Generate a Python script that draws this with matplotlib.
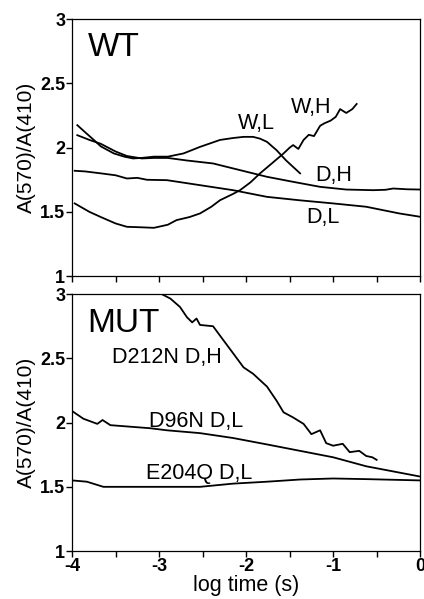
import matplotlib
matplotlib.use('Agg')
import matplotlib.pyplot as plt

plt.rcParams['font.family'] = ['Liberation Sans', 'DejaVu Sans']

# ---- WT panel ----
wh_x = [-3.97, -3.8, -3.67, -3.5, -3.37, -3.2, -3.06, -2.9, -2.80, -2.65, -2.53, -2.4, -2.30,
        -2.15, -2.07, -1.95, -1.84, -1.7, -1.57, -1.50, -1.46, -1.40, -1.34, -1.28, -1.22, -1.15,
        -1.10, -1.03, -0.97, -0.92, -0.85, -0.78, -0.73]
wh_y = [1.566, 1.50, 1.46, 1.41, 1.384, 1.38, 1.376, 1.40, 1.436, 1.46, 1.488, 1.54, 1.591,
        1.64, 1.669, 1.73, 1.80, 1.88, 1.955, 2.00, 2.02, 1.99, 2.06, 2.10, 2.09, 2.17,
        2.19, 2.21, 2.24, 2.30, 2.27, 2.30, 2.34]

wl_x = [-3.94, -3.85, -3.75, -3.67, -3.52, -3.4, -3.3, -3.2, -3.06, -2.9, -2.72, -2.53, -2.30,
        -2.15, -2.03, -1.92, -1.84, -1.76, -1.65, -1.54, -1.46, -1.38]
wl_y = [2.175, 2.12, 2.06, 2.01, 1.955, 1.93, 1.916, 1.92, 1.93, 1.93, 1.955, 2.006, 2.06,
        2.075, 2.084, 2.084, 2.07, 2.045, 1.98, 1.90, 1.85, 1.80]

dh_x = [-3.94, -3.8, -3.67, -3.5, -3.37, -3.2, -3.06, -2.9, -2.68, -2.38, -2.07, -1.76, -1.46,
        -1.15, -0.85, -0.54, -0.40, -0.31, -0.15, 0.0]
dh_y = [2.097, 2.06, 2.03, 1.97, 1.935, 1.916, 1.92, 1.92, 1.90, 1.877, 1.825, 1.773, 1.734,
        1.695, 1.674, 1.669, 1.672, 1.682, 1.676, 1.674]

dl_x = [-3.97, -3.85, -3.67, -3.5, -3.37, -3.25, -3.14, -2.91, -2.53, -2.15, -1.76, -1.38,
        -1.0, -0.62, -0.24, 0.0]
dl_y = [1.82, 1.815, 1.80, 1.785, 1.76, 1.765, 1.75, 1.747, 1.708, 1.669, 1.617, 1.59,
        1.566, 1.54, 1.488, 1.462]

# ---- MUT panel ----
d212_x = [-3.00, -2.97, -2.87, -2.76, -2.68, -2.62, -2.57, -2.53, -2.38, -2.26, -2.15, -2.03,
          -1.92, -1.76, -1.65, -1.57, -1.46, -1.34, -1.25, -1.15, -1.08, -1.0, -0.89, -0.81,
          -0.70, -0.62, -0.55, -0.50]
d212_y = [3.06, 3.0, 2.965, 2.90, 2.82, 2.78, 2.81, 2.76, 2.75, 2.64, 2.54, 2.43,
          2.38, 2.28, 2.17, 2.08, 2.04, 1.99, 1.91, 1.94, 1.84, 1.82, 1.835, 1.77,
          1.78, 1.74, 1.73, 1.71]

d96_x = [-4.0, -3.87, -3.71, -3.65, -3.56, -3.37, -3.10, -2.91, -2.53, -2.15, -1.76, -1.38,
         -1.0, -0.62, -0.31, 0.0]
d96_y = [2.09, 2.03, 1.99, 2.02, 1.98, 1.97, 1.956, 1.94, 1.918, 1.88, 1.83, 1.78,
         1.73, 1.66, 1.62, 1.58]

e204_x = [-4.0, -3.83, -3.64, -3.3, -2.91, -2.53, -2.15, -1.76, -1.38, -1.0, -0.62, 0.0]
e204_y = [1.55, 1.54, 1.50, 1.50, 1.50, 1.50, 1.525, 1.54, 1.557, 1.565, 1.56, 1.55]

x_ticks = [-4, -3.5, -3, -2.5, -2, -1.5, -1, -0.5, 0]
x_labels = ['-4', '', '-3', '', '-2', '', '-1', '', '0']
y_ticks = [1, 1.5, 2, 2.5, 3]
y_labels = ['1', '1.5', '2', '2.5', '3']

fig = plt.figure(figsize=(4.24, 5.99), dpi=100)
ax1 = fig.add_axes([0.170, 0.539, 0.821, 0.429])
ax2 = fig.add_axes([0.170, 0.080, 0.821, 0.429])

lw = 1.3
ax1.plot(wh_x, wh_y, 'k', lw=lw)
ax1.plot(wl_x, wl_y, 'k', lw=lw)
ax1.plot(dh_x, dh_y, 'k', lw=lw)
ax1.plot(dl_x, dl_y, 'k', lw=lw)
ax2.plot(d212_x, d212_y, 'k', lw=lw)
ax2.plot(d96_x, d96_y, 'k', lw=lw)
ax2.plot(e204_x, e204_y, 'k', lw=lw)

fs = 15.5
ax1.text(-3.82, 2.78, 'WT', fontsize=24, ha='left', va='center')
ax1.text(-1.88, 2.185, 'W,L', fontsize=fs, ha='center', va='center')
ax1.text(-1.25, 2.31, 'W,H', fontsize=fs, ha='center', va='center')
ax1.text(-0.99, 1.786, 'D,H', fontsize=fs, ha='center', va='center')
ax1.text(-1.115, 1.457, 'D,L', fontsize=fs, ha='center', va='center')

ax2.text(-3.83, 2.774, 'MUT', fontsize=24, ha='left', va='center')
ax2.text(-2.91, 2.51, 'D212N D,H', fontsize=fs, ha='center', va='center')
ax2.text(-2.57, 2.006, 'D96N D,L', fontsize=fs, ha='center', va='center')
ax2.text(-2.54, 1.60, 'E204Q D,L', fontsize=fs, ha='center', va='center')

for ax in (ax1, ax2):
    ax.set_xlim(-4, 0)
    ax.set_ylim(1, 3)
    ax.set_xticks(x_ticks)
    ax.set_yticks(y_ticks)
    ax.set_yticklabels(y_labels, fontweight='bold')
    ax.tick_params(direction='out', length=4, width=1, labelsize=13, pad=1)
    for s in ax.spines.values():
        s.set_linewidth(0.9)
    ax.set_ylabel('A(570)/A(410)', fontsize=15, labelpad=3)

ax1.set_xticklabels([])
ax2.set_xticklabels(x_labels, fontweight='bold')
ax2.set_xlabel('log time (s)', fontsize=15.5, labelpad=0)

fig.savefig('out.png', dpi=100)
